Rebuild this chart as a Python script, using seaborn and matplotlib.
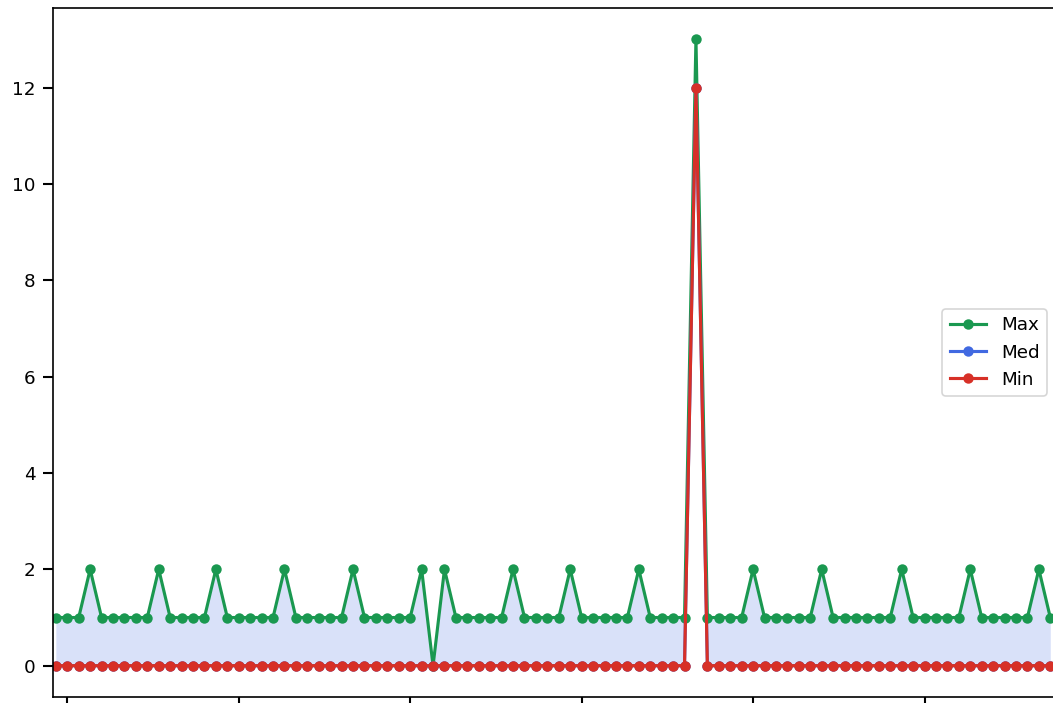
import numpy as np
import pandas as pd
import matplotlib
matplotlib.use("Agg")
import matplotlib.pyplot as plt
import seaborn as sns

# Per-step statistics (88 samples)
steps = list(range(88))

max_vals = [1] * 88
for i in [3, 9, 14, 20, 26, 32, 34, 40, 45, 51, 61, 67, 74, 80, 86]:
    max_vals[i] = 2
max_vals[33] = 0
max_vals[56] = 13

med_vals = [0] * 88
med_vals[56] = 12

min_vals = [0] * 88
min_vals[56] = 12

tick_positions = [1, 16, 31, 46, 61, 76]

GREEN = "#1a9850"
BLUE = "#4169e1"
RED = "#d73027"

sns.set_context("paper")
plt.rcParams["font.family"] = ["DejaVu Sans"]
plt.rcParams["axes.linewidth"] = 0.8

W, H, DPI = 1053, 703, 150
fig = plt.figure(figsize=(W / DPI, H / DPI), dpi=DPI)
left, right, top, bottom = 53, 1056, 8, 697
ax = fig.add_axes([left / W, 1 - bottom / H, (right - left) / W, (bottom - top) / H])

df = pd.DataFrame({"step": steps, "Max": max_vals, "Med": med_vals, "Min": min_vals})

ax.fill_between(df["step"], df["Min"], df["Max"], color=BLUE, alpha=0.2, linewidth=0)

line_kw = dict(marker="o", markersize=5, linewidth=1.5, markeredgewidth=0)
sns.lineplot(data=df, x="step", y="Max", color=GREEN, label="Max", ax=ax, **line_kw)
sns.lineplot(data=df, x="step", y="Med", color=BLUE, label="Med", ax=ax, **line_kw)
sns.lineplot(data=df, x="step", y="Min", color=RED, label="Min", ax=ax, **line_kw)

ax.set_xlim(-0.25, 87.5)
ax.set_ylim(-0.65, 13.65)
ax.set_yticks([0, 2, 4, 6, 8, 10, 12])
ax.set_xticks(tick_positions)
ax.set_xticklabels([])
ax.set_xlabel("")
ax.set_ylabel("")

ax.legend(loc="center right")

fig.savefig("out.png", dpi=DPI)
